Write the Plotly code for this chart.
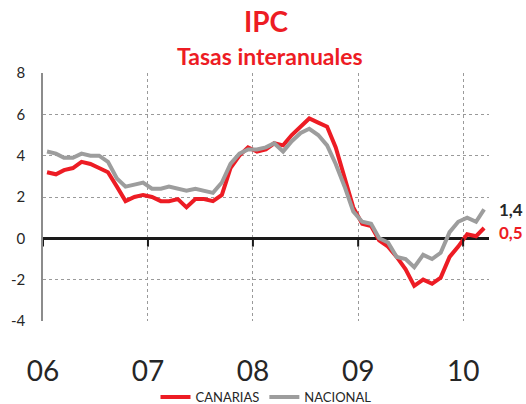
import pandas as pd
import plotly.graph_objects as go

# Meses: enero 2006 - marzo 2010 (punto a mitad de mes)
meses = pd.date_range("2006-01-01", periods=51, freq="MS") + pd.Timedelta(days=14)

canarias = [
    3.2, 3.1, 3.3, 3.4, 3.7, 3.6, 3.4, 3.2, 2.5, 1.8, 2.0, 2.1,
    2.0, 1.8, 1.8, 1.9, 1.5, 1.9, 1.9, 1.8, 2.1, 3.4, 4.0, 4.4,
    4.2, 4.3, 4.6, 4.5, 5.0, 5.4, 5.8, 5.6, 5.4, 4.4, 2.9, 1.5,
    0.7, 0.6, -0.1, -0.4, -0.9, -1.5, -2.3, -2.0, -2.2, -1.9, -0.9, -0.4,
    0.2, 0.1, 0.5,
]
nacional = [
    4.2, 4.1, 3.9, 3.9, 4.1, 4.0, 4.0, 3.7, 2.9, 2.5, 2.6, 2.7,
    2.4, 2.4, 2.5, 2.4, 2.3, 2.4, 2.3, 2.2, 2.7, 3.6, 4.1, 4.3,
    4.3, 4.4, 4.6, 4.2, 4.7, 5.1, 5.3, 5.0, 4.5, 3.6, 2.5, 1.3,
    0.8, 0.7, 0.0, -0.2, -0.9, -1.0, -1.4, -0.8, -1.0, -0.7, 0.3, 0.8,
    1.0, 0.8, 1.4,
]

anios = ["2006-01-01", "2007-01-01", "2008-01-01", "2009-01-01", "2010-01-01"]
etiquetas_anio = ["06", "07", "08", "09", "10"]
valores_y = [-4, -2, 0, 2, 4, 6, 8]
etiquetas_y = ["-4", "-2", "0", "2", "4", "6", "8"]

ROJO = "#ED1C24"
GRIS = "#9D9D9D"
TEXTO = "#262626"
FUENTE = "Lato"

fig = go.Figure()

fig.add_trace(go.Scatter(
    x=meses, y=canarias, mode="lines", name="CANARIAS",
    line=dict(color=ROJO, width=4),
))
fig.add_trace(go.Scatter(
    x=meses, y=nacional, mode="lines", name="NACIONAL",
    line=dict(color=GRIS, width=4),
))

# marcas de año sobre el eje cero
for a in anios:
    fig.add_shape(type="line", xref="x", yref="y", x0=a, x1=a, y0=0, y1=-0.4,
                  line=dict(color="#1a1a1a", width=2))

# último valor de cada serie
fig.add_annotation(x=meses[-1], y=nacional[-1], text=f"<b>{nacional[-1]:.1f}</b>".replace(".", ","),
                   xanchor="left", xshift=13, showarrow=False,
                   font=dict(family=FUENTE, size=17, color=TEXTO))
fig.add_annotation(x=meses[-1], y=canarias[-1], text=f"<b>{canarias[-1]:.1f}</b>".replace(".", ","),
                   xanchor="left", xshift=13, yshift=-4, showarrow=False,
                   font=dict(family=FUENTE, size=17, color=ROJO))

# subtítulo
fig.add_annotation(x=0.5, y=1.069, xref="paper", yref="paper", xshift=4,
                   text="<b>Tasas interanuales</b>", showarrow=False,
                   yanchor="middle", font=dict(family=FUENTE, size=23, color=ROJO))

fig.update_layout(
    width=526, height=404,
    margin=dict(l=43, r=37, t=73, b=83, autoexpand=False),
    paper_bgcolor="white",
    plot_bgcolor="white",
    font=dict(family=FUENTE, color=TEXTO),
    title=dict(text="<b>IPC</b>", x=0.5, xref="paper", xanchor="center",
               y=1 - 22 / 404, yref="container", yanchor="middle",
               font=dict(family=FUENTE, size=28, color=ROJO)),
    showlegend=True,
    legend=dict(orientation="h", x=0.5, xanchor="center",
                y=1 - 397 / 404, yref="container", yanchor="middle",
                bgcolor="rgba(0,0,0,0)",
                font=dict(family=FUENTE, size=13, color=TEXTO),
                itemwidth=30, tracegroupgap=0),
    xaxis=dict(
        type="date",
        range=["2006-01-01", "2010-04-01"],
        tickvals=anios, ticktext=etiquetas_anio,
        showgrid=True, gridcolor="#9a9a9a", griddash="dot", gridwidth=1,
        showline=False, zeroline=False, ticks="",
        ticklabelstandoff=31, automargin=False,
        tickfont=dict(family=FUENTE, size=28, color=TEXTO),
    ),
    yaxis=dict(
        range=[-4, 8], tickvals=valores_y, ticktext=etiquetas_y,
        showgrid=True, gridcolor="#9a9a9a", griddash="dot", gridwidth=1,
        showline=True, linecolor="#8c8c8c", linewidth=1.5,
        zeroline=True, zerolinecolor="#1a1a1a", zerolinewidth=2.5,
        ticks="", ticklabelstandoff=13, automargin=False,
        tickfont=dict(family=FUENTE, size=15, color=TEXTO),
    ),
)

# sin margen de página para que la figura ocupe la ventana entera
fig.write_html("out.html", config={"displayModeBar": False},
               post_script="document.body.style.margin='0';")
